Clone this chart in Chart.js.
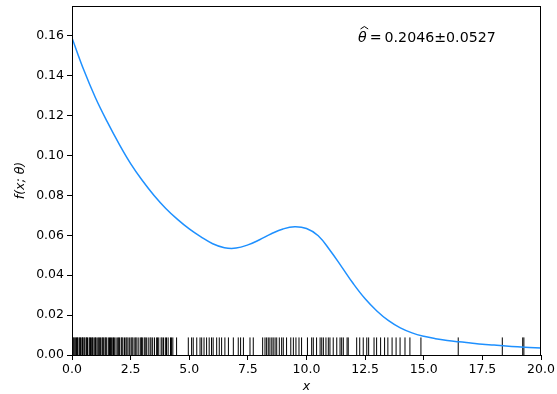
<!DOCTYPE html>
<html>
<head>
<meta charset="utf-8">
<script src="https://cdn.jsdelivr.net/npm/chart.js@4/dist/chart.umd.min.js"></script>
<style>
html,body{margin:0;padding:0;background:#fff;}
#wrap{width:557px;height:394px;position:relative;}
</style>
</head>
<body>
<div id="wrap"><canvas id="c" width="557" height="394"></canvas></div>
<script>
// ---- data ----
const curveX = [0,0.5,1,1.5,2,2.5,3,3.5,4,4.5,5,5.5,6,6.5,7,7.5,8,8.5,9,9.5,10,10.5,11,11.5,12,12.5,13,13.5,14,14.5,15,15.5,16,16.5,17,17.5,18,18.5,19,19.5,20];
const curveY = [0.159,0.143,0.129,0.117,0.106,0.096,0.0875,0.080,0.0735,0.068,0.0632,0.0592,0.0558,0.0538,0.0536,0.0552,0.0578,0.0608,0.0632,0.0643,0.0634,0.0598,0.0525,0.0442,0.0357,0.0282,0.0221,0.0172,0.0136,0.0111,0.0094,0.0082,0.0073,0.0066,0.006,0.0054,0.005,0.0045,0.0041,0.0038,0.0035];
const rugX = [0.02,0.05,0.08,0.12,0.16,0.19,0.23,0.25,0.31,0.34,0.36,0.42,0.45,0.47,0.52,0.55,0.61,0.63,0.66,0.73,0.76,0.79,0.84,0.87,0.9,0.97,1.0,1.03,1.1,1.14,1.18,1.22,1.28,1.31,1.35,1.41,1.44,1.48,1.55,1.6,1.64,1.68,1.74,1.77,1.82,1.88,1.95,1.99,2.03,2.1,2.13,2.17,2.24,2.3,2.34,2.39,2.46,2.52,2.56,2.6,2.68,2.72,2.77,2.85,2.93,2.96,3.0,3.08,3.12,3.17,3.25,3.33,3.37,3.44,3.52,3.61,3.65,3.7,3.8,3.84,3.9,3.98,4.03,4.1,4.2,4.24,4.3,4.46,
  4.96,5.10,5.17,5.32,5.46,5.53,5.63,5.74,5.85,5.95,6.02,6.17,6.28,6.38,6.52,6.67,6.88,7.09,7.19,7.31,7.59,7.73,
  8.13,8.23,8.30,8.37,8.44,8.52,8.58,8.66,8.73,8.84,8.94,9.01,9.15,9.33,9.44,9.55,9.68,9.79,10.04,10.22,10.29,10.43,10.58,10.65,10.72,10.83,10.93,11.0,11.14,11.29,11.43,11.5,11.57,11.73,11.78,
  12.14,12.27,12.42,12.57,12.65,12.88,12.99,13.16,13.33,13.47,13.65,13.82,13.99,14.20,14.41,14.88,16.47,18.35,19.22,19.27];
const rugHeight = 0.0088;
const xTicks = [0,2.5,5,7.5,10,12.5,15,17.5,20];
const yTicks = [0,0.02,0.04,0.06,0.08,0.10,0.12,0.14,0.16];
const annotationValue = "0.2046";
const annotationErr = "0.0527";

const FONT = "DejaVu Sans";

const framePlugin = {
  id: 'frame',
  afterDraw(chart) {
    const {ctx, chartArea: a} = chart;
    ctx.save();
    ctx.strokeStyle = '#000';
    ctx.lineWidth = 1;
    ctx.strokeRect(Math.round(a.left)+0.5, Math.round(a.top)+0.5, Math.round(a.right-a.left)-1, Math.round(a.bottom-a.top));
    // annotation
    const fs = 14.2;
    const tx = a.left + 286, ty = a.top + 36;
    ctx.fillStyle = '#000';
    ctx.textBaseline = 'alphabetic';
    ctx.textAlign = 'left';
    ctx.font = "italic " + fs + "px '" + FONT + "'";
    ctx.fillText('θ', tx, ty);
    const w = ctx.measureText('θ').width;
    // hat
    ctx.beginPath();
    ctx.moveTo(tx + 2.5, ty - 13);
    ctx.lineTo(tx + w/2 + 2, ty - 15.5);
    ctx.lineTo(tx + w + 1.5, ty - 13);
    ctx.lineWidth = 1;
    ctx.stroke();
    ctx.font = fs + "px '" + FONT + "'";
    const eqX = tx + w + 3;
    ctx.fillText('=', eqX, ty);
    const w2 = ctx.measureText('=').width;
    ctx.fillText(annotationValue + '±' + annotationErr, eqX + w2 + 3, ty);
    ctx.restore();
  }
};

new Chart(document.getElementById('c'), {
  type: 'scatter',
  data: {
    datasets: [
      {
        type: 'line',
        data: curveX.map((x,i)=>({x:x, y:curveY[i]})),
        borderColor: '#1e90ff',
        borderWidth: 1.5,
        pointRadius: 0,
        tension: 0.4,
        fill: false,
        order: 1
      },
      {
        data: rugX.map(x=>({x:x, y:rugHeight/2})),
        pointStyle: 'line',
        rotation: 90,
        radius: 8.8,
        borderColor: '#000',
        backgroundColor: '#000',
        borderWidth: 1,
        order: 2
      }
    ]
  },
  options: {
    responsive: false,
    animation: false,
    devicePixelRatio: 1,
    layout: {autoPadding: false, padding: {top: 6, right: 16, left: 0, bottom: 0}},
    plugins: {legend: {display: false}, tooltip: {enabled: false}},
    scales: {
      x: {
        type: 'linear', min: 0, max: 20,
        afterBuildTicks: s => { s.ticks = xTicks.map(v=>({value:v})); },
        afterFit: s => { s.height = 39; s.paddingLeft = 0; s.paddingRight = 0; },
        ticks: {color:'#000', font:{family:FONT, size:12.5}, padding:2, maxRotation:0,
          callback: v => Number(v).toFixed(1)},
        grid: {display:true, drawOnChartArea:false, tickLength:5, tickColor:'#000', color:'#000'},
        border: {display:true, color:'#000', width:1},
        title: {display:true, text:'x', color:'#000', font:{family:FONT, size:12.5, style:'italic'}, padding:{top:-1, bottom:0}}
      },
      y: {
        type: 'linear', min: 0, max: 0.175,
        afterBuildTicks: s => { s.ticks = yTicks.map(v=>({value:v})); },
        afterFit: s => { s.width = 72; s.paddingTop = 0; s.paddingBottom = 0; },
        ticks: {color:'#000', font:{family:FONT, size:12.5}, padding:3,
          callback: v => Number(v).toFixed(2)},
        grid: {display:true, drawOnChartArea:false, tickLength:5, tickColor:'#000', color:'#000'},
        border: {display:true, color:'#000', width:1},
        title: {display:true, text:'f(x; θ)', color:'#000', font:{family:FONT, size:12.5, style:'italic'}, padding:{top:13, bottom:0}}
      }
    }
  },
  plugins: [framePlugin]
});
</script>
</body>
</html>
